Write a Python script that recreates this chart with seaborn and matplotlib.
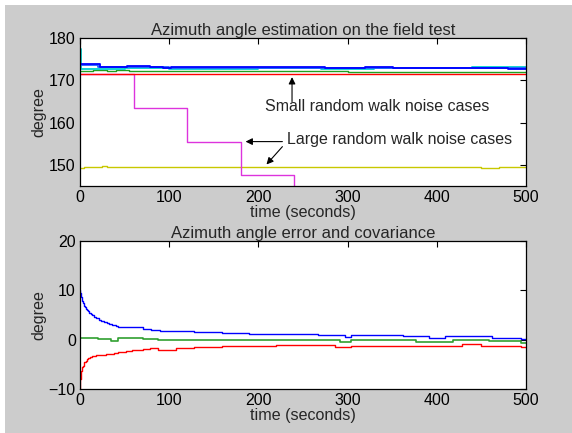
import matplotlib
matplotlib.use("Agg")
import matplotlib.pyplot as plt
import seaborn as sns
import numpy as np
from matplotlib.patches import Rectangle

# ---------------- data ----------------
# top panel: azimuth estimates (degree)
mag_t = [0, 60, 120, 180, 240, 500]
mag_v = [171.5, 163.5, 155.5, 147.5, 139.5, 139.5]

red_top_t = [0, 500]
red_top_v = [171.45, 171.45]

green_top_t = [0, 15, 30, 40, 55, 300, 500]
green_top_v = [172.3, 172.4, 172.3, 172.4, 172.3, 172.0, 172.0]

cyan_t = [0, 1, 50, 100, 200, 270, 330, 440, 500]
cyan_v = [177.4, 172.7, 172.8, 172.7, 172.8, 172.7, 172.8, 173.2, 173.2]

blue_top_t = [0, 22, 53, 78, 93, 102, 247, 275, 320, 351, 480, 500]
blue_top_v = [173.8, 173.2, 173.4, 173.1, 172.9, 173.1, 173.07, 172.8, 173.07, 172.9, 172.7, 172.7]

blue2_top_t = [0, 20, 50, 100, 200, 300, 500]
blue2_top_v = [173.5, 173.1, 173.2, 172.95, 173.0, 172.9, 172.85]

yel_t = [0, 5, 10, 20, 25, 30, 40, 50, 60, 80, 100, 120, 140, 160, 200, 260, 300, 330, 360, 400, 420, 450, 470, 490, 500]
yel_v = [149.3, 149.6, 149.4, 149.6, 149.8, 149.5, 149.6, 149.4, 149.6, 149.5, 149.4, 149.6, 149.4, 149.5, 149.4, 149.5, 149.4, 149.6, 149.5, 149.4, 149.6, 149.3, 149.5, 149.4, 149.4]

# bottom panel: error and covariance (degree)
blue_t = [0, 0.5, 1, 1.5, 2, 2.7, 3.5, 4.2, 5, 6, 7, 8, 9, 10, 12, 14, 16, 18, 21, 24, 27, 30, 33, 36, 40, 43, 56, 71, 80, 90, 106, 128, 159, 189, 267, 297, 304, 362, 391, 409, 462, 494, 500]
blue_v = [10, 9.5, 9.0, 8.6, 8.2, 7.8, 7.5, 7.2, 6.9, 6.6, 6.3, 6.0, 5.75, 5.5, 5.2, 4.9, 4.6, 4.3, 4.05, 3.8, 3.55, 3.3, 3.15, 3.0, 2.8, 2.6, 2.5, 2.2, 2.0, 1.8, 1.7, 1.6, 1.35, 1.1, 0.88, 0.54, 0.88, 0.67, 0.4, 0.67, 0.4, 0.13, 0.13]

green_t = [0, 20, 35, 43, 71, 87, 178, 223, 250, 291, 304, 377, 418, 458, 494, 500]
green_v = [0.35, 0.15, -0.2, 0.25, 0.05, 0.0, -0.13, 0.0, -0.13, -0.4, -0.13, -0.4, -0.07, -0.35, -0.67, -0.67]

red_t = [0, 0.15, 0.3, 0.5, 0.7, 0.9, 1.1, 1.5, 2, 2.5, 3, 4, 5, 6.5, 8, 9.5, 11, 14, 18, 21, 25, 29, 33, 38, 43, 47, 52, 58, 64, 71, 79, 88, 108, 128, 159, 220, 286, 304, 428, 449, 494, 500]
red_v = [-10, -9.2, -8.5, -8.0, -7.5, -7.2, -6.9, -6.4, -6.0, -5.6, -5.3, -4.9, -4.6, -4.3, -4.0, -3.8, -3.6, -3.4, -3.2, -3.12, -3.05, -2.97, -2.9, -2.75, -2.6, -2.4, -2.2, -2.1, -2.0, -1.85, -1.7, -2.0, -1.7, -1.45, -1.35, -1.15, -1.5, -1.2, -0.94, -1.2, -1.5, -1.5]

xticks = [0, 100, 200, 300, 400, 500]
top_yticks = [150, 160, 170, 180]
bot_yticks = [-10, 0, 10, 20]

# ---------------- style ----------------
sns.set_style("white")
plt.rcParams['font.family'] = ['Liberation Sans', 'DejaVu Sans']
FS = 11.5
LFS = 11.6
BG = "#cccccc"

fig = plt.figure(figsize=(5.72, 4.33), dpi=100, facecolor="white")
fig.patches.append(Rectangle((5 / 572, 0), 1, 1 - 5 / 433, transform=fig.transFigure,
                             facecolor=BG, edgecolor="none", zorder=-10))

W, H = 572, 433
def axrect(l, t, r, b):
    return [l / W, 1 - b / H, (r - l) / W, (b - t) / H]

ax1 = fig.add_axes(axrect(80, 38, 526, 186))
ax2 = fig.add_axes(axrect(80, 241, 526, 389))

def step(ax, t, v, color, lw=1.0):
    sns.lineplot(x=t, y=v, ax=ax, color=color, linewidth=lw, drawstyle="steps-post",
                 estimator=None, sort=False)

step(ax1, yel_t, yel_v, "#c8c800")
step(ax1, mag_t, mag_v, "#dd33dd")
step(ax1, red_top_t, red_top_v, "#ff0000")
step(ax1, green_top_t, green_top_v, "#20a020")
step(ax1, cyan_t, cyan_v, "#00d0d0", 1.3)
step(ax1, blue2_top_t, blue2_top_v, "#2060ff", 1.3)
step(ax1, blue_top_t, blue_top_v, "#0000ff", 1.3)

step(ax2, blue_t, blue_v, "#0000ff")
step(ax2, green_t, green_v, "#30a030", 1.2)
step(ax2, red_t, red_v, "#ff0000")

for ax, ylim, yt, title in [(ax1, (145, 180), top_yticks, "Azimuth angle estimation on the field test"),
                            (ax2, (-10, 20), bot_yticks, "Azimuth angle error and covariance")]:
    ax.set_facecolor("white")
    ax.set_xlim(0, 500)
    ax.set_ylim(*ylim)
    ax.set_xticks(xticks)
    ax.set_yticks(yt)
    ax.tick_params(direction="in", top=True, right=True, length=4, width=0.8,
                   labelsize=FS, colors="black", pad=3)
    for s in ax.spines.values():
        s.set_visible(True)
        s.set_color("black")
        s.set_linewidth(0.9)
    ax.set_title(title, fontsize=12.0, pad=2)
    ax.set_xlabel("time (seconds)", fontsize=LFS, labelpad=0)
    ax.set_ylabel("degree", fontsize=LFS, labelpad=2)

# annotations
akw = dict(arrowstyle="-|>", color="black", lw=0.8, mutation_scale=10)
ax1.annotate("", xy=(237.7, 171.4), xytext=(237.7, 164.3), arrowprops=akw)
ax1.text(207, 163.7, "Small random walk noise cases", fontsize=11.5, va="center", ha="left")
ax1.annotate("", xy=(182.5, 155.5), xytext=(230, 155.5), arrowprops=akw)
ax1.annotate("", xy=(207, 149.6), xytext=(229, 154.8), arrowprops=akw)
ax1.text(232, 156.1, "Large random walk noise cases", fontsize=11.5, va="center", ha="left")

fig.savefig("out.png", dpi=100, facecolor=fig.get_facecolor())
